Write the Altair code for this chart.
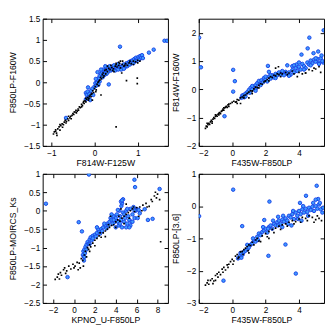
import altair as alt
import pandas as pd

# ---------------- Panel 1 : F814W-F125W vs F850LP-F160W ----------------
p1_black_x = [-0.95,-0.93,-0.9,-0.88,-0.85,-0.82,-0.8,-0.78,-0.75,-0.72,-0.7,-0.68,-0.65,-0.62,-0.6,-0.57,-0.55,-0.52,-0.5,-0.48,
              -0.45,-0.43,-0.4,-0.38,-0.35,-0.33,-0.3,-0.28,-0.26,-0.24,-0.22,-0.2,-0.18,-0.16,-0.14,-0.12,-0.1,-0.08,-0.06,-0.04,
              -0.02,0.0,0.02,0.04,0.06,0.08,0.1,0.12,0.14,0.16,0.18,0.2,0.22,0.24,0.27,0.3,0.33,0.36,0.4,0.44,
              0.48,0.52,0.56,0.6,0.64,0.68,0.72,0.76,0.8,0.85,0.9,0.95,1.0,1.05,0.5,0.74,0.99,0.99,0.63,0.45,
              0.15,-0.05,0.56,0.5,0.6,
              -0.9,-0.87,-0.8,-0.74,-0.66,-0.6,-0.54,-0.47,-0.42,-0.37,-0.3,-0.25,-0.2,-0.13,-0.07,0.03,0.1,0.2,0.3,0.38,
              0.5,0.58,0.7,0.82,0.9,1.0,0.65,0.42,0.26]
p1_black_y = [-1.22,-1.17,-1.12,-1.2,-1.1,-1.05,-1.13,-1.02,-0.98,-1.0,-0.94,-0.9,-0.92,-0.86,-0.9,-0.84,-0.8,-0.78,-0.74,-0.76,
              -0.7,-0.66,-0.68,-0.63,-0.58,-0.6,-0.52,-0.55,-0.48,-0.5,-0.44,-0.46,-0.4,-0.36,-0.42,-0.33,-0.3,-0.34,-0.26,-0.2,
              -0.24,-0.15,-0.1,-0.18,-0.05,0.0,-0.08,0.05,0.12,0.08,0.18,0.22,0.15,0.28,0.3,0.25,0.33,0.3,0.35,0.32,
              0.38,0.36,0.4,0.34,0.42,0.38,0.44,0.4,0.46,0.44,0.5,0.48,0.52,0.5,-1.05,0.04,0.1,-0.03,0.22,0.25,
              -0.3,-0.42,0.47,0.45,0.5,
              -1.15,-1.25,-1.0,-1.06,-0.96,-0.8,-0.86,-0.7,-0.72,-0.66,-0.58,-0.45,-0.38,-0.38,-0.28,-0.22,0.02,0.12,0.38,0.4,
              0.42,0.45,0.4,0.5,0.42,0.46,0.5,0.28,0.2]
p1_blue_x = [1.62,1.68,1.37,1.26,0.59,0.33,-0.66,0.07,-0.15,
             -0.2,-0.18,-0.16,-0.14,-0.12,-0.2,-0.1,-0.08,-0.05,-0.03,-0.17,0.0,0.02,0.04,0.06,0.08,0.1,0.03,0.12,0.09,
             0.12,0.15,0.17,0.19,0.2,0.22,0.24,0.25,0.27,0.3,0.32,0.35,0.38,0.4,0.42,0.45,0.48,0.5,0.52,0.55,
             0.57,0.6,0.62,0.65,0.67,0.7,0.72,0.74,0.76,0.78,0.8,0.82,0.84,0.86,0.88,0.9,0.92,0.94,0.96,0.98,
             1.0,1.02,1.04,1.06,1.08,1.1,1.12,0.55,0.45,0.35,0.68,0.25,0.15,0.28]
p1_blue_y = [0.98,0.98,0.77,0.7,0.84,-0.05,-0.84,0.24,-0.12,
             -0.25,-0.3,-0.22,-0.35,-0.28,-0.4,-0.42,-0.2,-0.15,-0.3,-0.38,-0.1,-0.02,-0.08,0.0,0.05,0.1,0.08,0.02,-0.05,
             0.15,0.2,0.25,0.12,0.3,0.22,0.18,0.28,0.35,0.3,0.25,0.32,0.28,0.36,0.3,0.34,0.28,0.37,0.32,0.3,
             0.38,0.35,0.3,0.37,0.42,0.35,0.4,0.45,0.38,0.43,0.48,0.42,0.5,0.46,0.52,0.45,0.55,0.5,0.58,0.52,
             0.56,0.6,0.54,0.62,0.58,0.64,0.57,0.43,0.4,0.38,0.32,0.38,0.3,0.2]

# ---------------- Panel 2 : F435W-F850LP vs F814W-F160W ----------------
p2_black_x = [-1.6,-1.55,-1.5,-1.45,-1.4,-1.35,-1.3,-1.25,-1.2,-1.15,-1.1,-1.05,-1.0,-0.95,-0.9,-0.85,-0.8,-0.75,-0.7,-0.65,
              -0.6,-0.55,-0.5,-0.45,-0.4,-0.35,-0.3,-0.25,-0.2,-0.1,0.0,0.1,0.2,0.3,0.4,0.5,0.6,0.7,0.8,0.9,
              1.0,1.1,1.2,1.3,1.4,1.5,1.6,1.7,1.8,1.9,2.0,2.1,2.2,2.3,2.4,2.5,2.6,2.7,2.8,2.9,
              3.0,3.2,3.4,3.6,3.9,4.0,4.4,4.6,4.8,5.0,5.3,2.77,2.6,0.5,1.0,-1.0,0.25,1.21,1.98,4.39,
              -1.5,-1.2,-0.8,-0.5,-0.2,0.3,0.7,1.2,1.6,2.2,2.9,3.3,3.7,4.2,4.9,5.2]
p2_black_y = [-1.38,-1.3,-1.33,-1.25,-1.2,-1.24,-1.15,-1.1,-1.14,-1.05,-1.0,-1.03,-0.96,-0.92,-0.95,-0.88,-0.85,-0.82,-0.86,-0.78,
              -0.75,-0.7,-0.74,-0.66,-0.63,-0.6,-0.64,-0.55,-0.52,-0.5,-0.46,-0.42,-0.45,-0.36,-0.38,-0.3,-0.27,-0.22,-0.2,-0.14,
              -0.1,-0.05,-0.07,0.02,0.08,0.06,0.14,0.2,0.18,0.26,0.3,0.35,0.4,0.45,0.42,0.5,0.48,0.55,0.52,0.58,
              0.55,0.6,0.58,0.65,0.45,0.6,0.58,0.7,0.66,0.72,0.6,0.8,0.75,-0.5,-0.3,-0.9,-0.44,-0.05,0.29,0.58,
              -1.2,-1.2,-0.9,-0.65,-0.6,-0.5,-0.3,-0.15,0.05,0.3,0.45,0.52,0.55,0.55,0.75,0.8]
p2_blue_x = [-1.98,-1.87,5.48,4.62,4.52,4.87,5.15,4.15,0.06,0.16,0.06,-0.46,2.14,5.45,
             0.55,0.6,0.68,0.72,0.8,0.9,1.0,1.05,1.1,1.2,1.3,1.4,1.45,1.5,1.6,1.65,1.75,1.85,1.9,2.0,
             2.1,2.2,2.3,2.4,2.5,2.6,2.7,2.8,2.9,3.0,3.1,3.2,3.3,3.4,3.5,3.6,3.7,3.8,3.85,3.9,
             4.0,4.1,4.2,4.3,4.4,4.5,4.6,4.7,4.8,4.9,5.0,5.1,5.2,5.3,5.4,3.3,3.6,2.2,
             0.8,1.2,1.7,2.3,2.6,3.0,3.4,3.7,4.0,4.3,4.7,5.0,5.2,5.35,1.4,2.0]
p2_blue_y = [1.83,0.78,2.09,1.83,1.45,1.28,1.34,1.23,0.69,0.29,-0.08,-0.95,0.83,0.95,
             -0.3,-0.22,-0.2,-0.28,-0.15,-0.1,-0.02,-0.12,0.05,0.0,0.1,0.15,0.05,0.22,0.3,0.18,0.32,0.25,0.4,0.35,
             0.28,0.45,0.38,0.5,0.42,0.55,0.5,0.6,0.52,0.58,0.5,0.62,0.55,0.6,0.52,0.68,0.6,0.75,0.88,0.65,
             0.8,0.7,0.9,0.82,0.75,0.95,0.88,1.02,0.92,1.05,0.98,1.08,0.95,1.1,1.0,0.85,0.82,0.62,
             -0.25,0.12,0.15,0.5,0.4,0.65,0.48,0.85,0.95,0.7,0.85,1.1,0.9,1.2,-0.05,0.45]

# ---------------- Panel 3 : KPNO_U-F850LP vs F850LP-MOIRCS_Ks ----------------
p3_black_x = [-1.8,-1.6,-1.5,-1.3,-1.2,-1.0,-0.9,-0.7,-0.5,-0.3,-0.1,0.1,0.3,0.5,0.6,0.7,0.85,1.0,1.1,1.2,
              1.3,1.4,1.5,1.6,1.8,2.0,2.2,2.4,2.6,2.8,3.0,3.2,3.4,3.6,3.8,4.0,4.2,4.4,4.6,4.8,
              5.0,5.2,5.4,5.6,5.8,6.0,6.3,6.6,6.9,7.2,7.5,7.7,7.9,8.0,8.2,8.3,5.0,4.5,3.5,6.2,
              1.5,2.0,2.5,3.0,3.3,4.0,4.3,4.8,5.3,5.7,6.5,7.0,7.4,7.8,-1.4,-0.8,0.0,0.4,0.9]
p3_black_y = [-1.86,-1.8,-1.72,-1.68,-1.75,-1.6,-1.55,-1.63,-1.5,-1.58,-1.45,-1.5,-1.4,-1.42,-1.55,-1.3,-1.35,-1.2,-1.1,-1.25,
              -1.0,-1.05,-0.92,-0.98,-0.88,-0.8,-0.75,-0.68,-0.72,-0.6,-0.55,-0.5,-0.45,-0.4,-0.38,-0.3,-0.25,-0.28,-0.2,-0.15,
              -0.1,-0.05,0.0,0.05,-0.02,0.08,0.1,0.15,0.2,0.12,0.25,0.4,0.35,0.45,0.3,-0.84,0.18,0.05,-0.15,-0.15,
              -1.1,-0.95,-0.6,-0.7,-0.38,-0.45,-0.15,-0.35,-0.2,0.1,0.0,0.1,0.3,0.5,-1.85,-1.7,-1.55,-1.6,-1.5]
p3_blue_x = [-2.69,1.43,5.79,5.85,8.2,0.45,0.76,-0.62,4.7,4.54,7.08,7.53,6.3,6.77,6.0,
             0.85,0.9,0.95,1.0,1.05,1.1,1.2,1.3,1.4,1.5,1.6,1.7,1.8,2.0,2.2,2.4,2.6,2.8,3.0,3.2,
             3.4,3.5,3.6,3.8,4.0,4.1,4.2,4.3,4.4,4.5,4.6,4.7,4.8,4.9,5.0,5.1,5.2,5.3,5.4,5.5,
             5.6,5.7,5.8,5.9,6.1,4.35,4.6,4.0,3.7,5.0,5.4,
             1.2,1.5,1.8,2.1,2.3,2.5,2.7,2.9,3.1,3.3,3.6,3.9,4.2,4.4,4.8,5.1,5.3,5.6,5.8,6.2,
             4.5,4.6,3.8,2.2,1.0,0.95]
p3_blue_y = [0.19,0.98,0.84,0.64,0.59,-0.31,-0.56,-1.8,0.31,0.13,-0.25,-0.22,-0.07,0.04,0.05,
             -1.2,-1.1,-1.25,-1.05,-1.15,-0.98,-0.92,-0.85,-0.9,-0.78,-0.72,-0.8,-0.68,-0.65,-0.6,-0.55,-0.5,-0.45,-0.4,-0.35,
             -0.3,-0.2,-0.25,-0.15,-0.2,-0.1,-0.3,-0.4,-0.15,-0.25,-0.45,-0.05,-0.3,-0.2,0.0,-0.35,-0.15,-0.25,0.05,-0.3,
             -0.1,0.1,-0.2,0.0,-0.2,0.0,0.2,-0.45,-0.35,-0.45,-0.4,
             -1.05,-0.9,-0.75,-0.7,-0.5,-0.62,-0.55,-0.35,-0.48,-0.4,-0.1,-0.3,0.02,-0.35,-0.1,0.05,-0.45,-0.3,0.0,0.02,
             0.25,0.28,-0.25,-0.45,-1.25,-1.35]

# ---------------- Panel 4 : F435W-F850LP vs F850LP-[3.6] ----------------
p4_black_x = [-1.6,-1.5,-1.4,-1.3,-1.2,-1.1,-1.0,-0.9,-0.8,-0.7,-0.6,-0.5,-0.4,-0.3,-0.2,-0.1,0.0,0.1,0.2,0.3,
              0.4,0.5,0.6,0.7,0.8,0.9,1.0,1.1,1.2,1.4,1.5,1.6,1.8,2.0,2.2,2.4,2.6,2.8,3.0,3.2,
              3.4,3.6,3.8,4.0,4.2,4.4,4.6,4.8,5.0,5.2,5.35,1.0,2.2,-1.0,
              -1.45,-1.15,-0.85,-0.55,-0.25,0.05,0.35,0.65,0.95,1.3,1.7,2.1,2.5,2.9,3.3,3.7,4.1,4.5,4.9,5.1]
p4_black_y = [-2.45,-2.38,-2.42,-2.3,-2.25,-2.32,-2.15,-2.1,-2.05,-2.12,-1.95,-1.9,-1.98,-1.82,-1.8,-1.72,-1.65,-1.7,-1.55,-1.5,
              -1.58,-1.42,-1.4,-1.35,-1.3,-1.25,-1.2,-1.22,-1.12,-1.05,-1.0,-1.08,-0.92,-0.85,-0.78,-0.72,-0.68,-0.62,-0.58,-0.55,
              -0.5,-0.45,-0.48,-0.4,-0.35,-0.38,-0.3,-0.35,-0.42,-0.38,-0.45,-1.45,-1.0,-2.3,
              -2.3,-2.4,-2.2,-2.05,-1.9,-1.8,-1.62,-1.5,-1.38,-1.2,-1.1,-0.95,-0.82,-0.72,-0.62,-0.55,-0.5,-0.45,-0.5,-0.3]
p4_blue_x = [-1.98,0.06,0.6,-0.52,2.23,2.17,3.19,3.81,5.06,4.42,4.06,1.92,2.75,5.15,5.0,
             0.35,0.45,0.55,0.63,0.7,0.8,0.92,1.0,1.1,1.2,1.3,1.4,1.5,1.6,1.7,1.8,1.9,2.0,2.1,2.2,
             2.3,2.4,2.5,2.6,2.7,2.8,2.9,3.0,3.1,3.2,3.3,3.4,3.5,3.6,3.7,3.8,3.9,4.0,4.1,4.2,
             4.3,4.4,4.5,4.6,4.7,4.8,4.9,5.0,5.1,5.2,5.3,5.4,3.55,4.15,
             0.5,0.9,1.25,1.55,1.85,2.15,2.45,2.75,3.05,3.35,3.65,3.95,4.25,4.55,4.85,5.25,5.45,3.0]
p4_blue_y = [-0.31,0.51,-0.62,-2.31,0.14,-1.54,-1.19,-2.09,0.63,0.32,0.1,-0.43,-0.33,0.22,0.2,
             -1.62,-1.55,-1.6,-1.5,-1.42,-1.38,-1.34,-1.28,-1.2,-1.15,-1.05,-1.1,-0.95,-0.85,-0.9,-0.8,-0.75,-0.7,-0.82,-0.65,
             -0.6,-0.7,-0.55,-0.6,-0.5,-0.45,-0.55,-0.42,-0.48,-0.38,-0.45,-0.3,-0.35,-0.25,-0.4,-0.2,-0.3,-0.15,-0.25,-0.1,
             -0.2,-0.08,-0.18,-0.05,-0.12,-0.02,-0.15,0.0,-0.08,0.05,-0.1,-0.2,-0.6,-0.45,
             -1.45,-1.2,-1.0,-1.05,-0.65,-0.7,-0.45,-0.6,-0.3,-0.55,-0.15,-0.4,0.0,-0.3,0.1,0.1,-0.05,-0.65]

FONT = "Liberation Sans"
GRID = dict(ticks=False, grid=True, gridDash=[4, 2000], gridColor="black",
            gridWidth=1, gridOpacity=1, domain=False)


def panel(bx, by, cx, cy, xdom, ydom, xt, yt, xtitle, ytitle, w, h):
    black = pd.DataFrame({"x": bx, "y": by})
    blue = pd.DataFrame({"x": cx, "y": cy})
    xs = alt.Scale(domain=xdom, nice=False, zero=False)
    ys = alt.Scale(domain=ydom, nice=False, zero=False)
    circ = alt.Chart(blue).mark_circle(
        size=13, fill="#3d9bff", stroke="#1a44e6", strokeWidth=1, opacity=1, clip=True
    ).encode(
        x=alt.X("x:Q", scale=xs, axis=alt.Axis(orient="bottom", values=xt, format="~g",
                                               title=xtitle, labelPadding=3, titlePadding=2, **GRID)),
        y=alt.Y("y:Q", scale=ys, axis=alt.Axis(orient="left", values=yt, format="~g",
                                               title=ytitle, labelPadding=3, titlePadding=6, **GRID)),
    )
    pts = alt.Chart(black).mark_square(size=3, color="black", opacity=1, clip=True).encode(
        x=alt.X("x:Q", scale=xs, axis=alt.Axis(orient="top", values=xt, labels=False, title=None, **GRID)),
        y=alt.Y("y:Q", scale=ys, axis=alt.Axis(orient="right", values=yt, labels=False, title=None, **GRID)),
    )
    return alt.layer(circ, pts).resolve_axis(x="independent", y="independent").properties(width=w, height=h)


W = 130
c1 = panel(p1_black_x, p1_black_y, p1_blue_x, p1_blue_y, [-1.2, 1.7], [-1.5, 1.5],
           [-1, 0, 1], [-1.5, -1, -0.5, 0, 0.5, 1, 1.5], "F814W-F125W", "F850LP-F160W", W, 132)
c2 = panel(p2_black_x, p2_black_y, p2_blue_x, p2_blue_y, [-2, 5.5], [-2, 2.5],
           [-2, 0, 2, 4], [-2, -1, 0, 1, 2], "F435W-F850LP", "F814W-F160W", W, 132)
c3 = panel(p3_black_x, p3_black_y, p3_blue_x, p3_blue_y, [-3, 9], [-2.5, 1],
           [-2, 0, 2, 4, 6, 8], [-2.5, -2, -1.5, -1, -0.5, 0, 0.5, 1], "KPNO_U-F850LP", "F850LP-MOIRCS_Ks", W, 134)
c4 = panel(p4_black_x, p4_black_y, p4_blue_x, p4_blue_y, [-2, 5.5], [-3, 1],
           [-2, 0, 2, 4], [-3, -2, -1, 0, 1], "F435W-F850LP", "F850LP-[3.6]", W, 134)

chart = alt.concat(c1, c2, c3, c4, columns=2, spacing={"row": 1, "column": 2}).properties(
    padding={"left": 0, "top": 0, "right": 0, "bottom": 0},
    background="white",
).configure_view(stroke="black", strokeWidth=1).configure_axis(
    labelFont=FONT, labelFontSize=8.5, labelColor="black",
    titleFont=FONT, titleFontSize=9, titleFontWeight="normal", titleColor="black",
)

chart.save("out.html", embed_options={"renderer": "svg", "actions": False})
